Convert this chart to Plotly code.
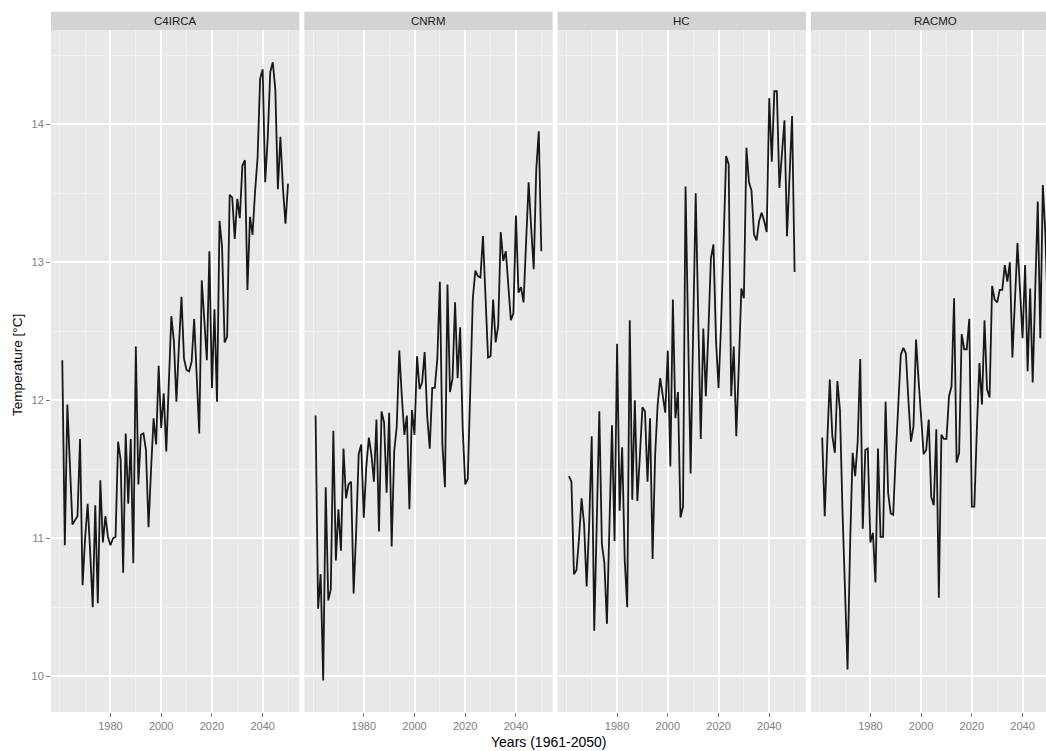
import plotly.graph_objects as go

years = list(range(1961, 2051))
models = ["C4IRCA", "CNRM", "HC", "RACMO"]

c4irca = [
    12.29, 10.95, 11.97, 11.50, 11.10, 11.13, 11.16, 11.72, 10.66, 11.00,
    11.25, 10.90, 10.50, 11.24, 10.53, 11.42, 10.97, 11.16, 11.01, 10.95,
    11.00, 11.01, 11.70, 11.57, 10.75, 11.76, 11.25, 11.72, 10.82, 12.39,
    11.39, 11.75, 11.76, 11.64, 11.08, 11.50, 11.87, 11.68, 12.25, 11.80,
    12.05, 11.63, 12.10, 12.61, 12.43, 11.99, 12.40, 12.75, 12.30, 12.22,
    12.21, 12.28, 12.59, 12.20, 11.76, 12.87, 12.54, 12.29, 13.08, 12.09,
    12.66, 11.99, 13.30, 13.11, 12.42, 12.46, 13.49, 13.47, 13.17, 13.46,
    13.32, 13.70, 13.74, 12.80, 13.33, 13.20, 13.51, 13.76, 14.33, 14.40,
    13.58, 13.90, 14.38, 14.45, 14.25, 13.53, 13.91, 13.54, 13.28, 13.57,
]

cnrm = [
    11.89, 10.49, 10.74, 9.97, 11.37, 10.55, 10.63, 11.78, 10.84, 11.21,
    10.91, 11.65, 11.29, 11.39, 11.41, 10.60, 11.05, 11.61, 11.68, 11.15,
    11.52, 11.73, 11.61, 11.41, 11.86, 11.05, 11.92, 11.84, 11.33, 11.91,
    10.94, 11.63, 11.81, 12.36, 12.03, 11.75, 11.89, 11.21, 11.93, 11.75,
    12.32, 12.08, 12.13, 12.35, 11.89, 11.65, 12.09, 12.09, 12.30, 12.86,
    11.68, 11.37, 12.84, 12.06, 12.16, 12.71, 12.16, 12.53, 11.80, 11.39,
    11.43, 12.20, 12.74, 12.94, 12.90, 12.89, 13.19, 12.75, 12.31, 12.32,
    12.73, 12.42, 12.54, 13.22, 13.01, 13.08, 12.80, 12.58, 12.63, 13.34,
    12.78, 12.82, 12.71, 13.10, 13.58, 13.25, 12.95, 13.67, 13.95, 13.08,
]

hc = [
    11.45, 11.41, 10.74, 10.77, 11.00, 11.29, 11.10, 10.65, 11.10, 11.74,
    10.33, 11.10, 11.92, 10.96, 10.82, 10.38, 11.10, 11.82, 10.98, 12.41,
    11.20, 11.66, 10.85, 10.50, 12.58, 11.28, 12.00, 11.27, 11.60, 11.95,
    11.92, 11.41, 11.87, 10.85, 11.60, 11.97, 12.16, 12.05, 11.91, 12.36,
    11.52, 12.73, 11.87, 12.06, 11.15, 11.23, 13.55, 12.50, 11.47, 12.50,
    13.50, 12.60, 11.72, 12.52, 12.03, 12.50, 13.03, 13.13, 12.44, 12.09,
    12.55, 13.15, 13.77, 13.71, 12.03, 12.39, 11.74, 12.25, 12.81, 12.74,
    13.83, 13.58, 13.52, 13.20, 13.16, 13.30, 13.36, 13.30, 13.22, 14.19,
    13.73, 14.24, 14.24, 13.54, 13.80, 14.03, 13.19, 13.60, 14.06, 12.93,
]

racmo = [
    11.73, 11.16, 11.70, 12.15, 11.74, 11.62, 12.14, 11.93, 11.20, 10.60,
    10.05, 10.95, 11.62, 11.45, 11.70, 12.30, 11.07, 11.64, 11.65, 10.97,
    11.04, 10.68, 11.65, 11.01, 11.01, 11.99, 11.33, 11.18, 11.17, 11.60,
    12.00, 12.33, 12.38, 12.34, 12.00, 11.70, 11.81, 12.44, 12.15, 11.85,
    11.61, 11.64, 11.86, 11.30, 11.24, 11.79, 10.57, 11.75, 11.72, 11.72,
    12.03, 12.10, 12.74, 11.55, 11.62, 12.48, 12.37, 12.37, 12.59, 11.23,
    11.23, 11.80, 12.27, 11.97, 12.58, 12.08, 12.02, 12.83, 12.73, 12.71,
    12.80, 12.80, 12.98, 12.86, 13.00, 12.31, 12.70, 13.14, 12.80, 12.45,
    12.98, 12.21, 12.81, 12.13, 12.80, 13.44, 12.45, 13.56, 13.20, 12.60,
]

series = [c4irca, cnrm, hc, racmo]

x_ticks = [1980, 2000, 2020, 2040]
x_minor = [1960, 1970, 1990, 2010, 2030, 2050]
y_ticks = [10, 11, 12, 13, 14]
y_minor = [10.5, 11.5, 12.5, 13.5, 14.5]

# ---- geometry (pixels) ----
W, H = 1046, 751
ML, MR, MT, MB = 51, 0, 0, 39
PW = W - ML - MR
PH = H - MT - MB
panel_top = 30.0
strip_top = 11.7
panel_w = 248.3
panel_step = 253.3
x_lo, x_hi = 1956.55, 2054.45
y_lo, y_hi = 9.741, 14.684
px_per_year = panel_w / (x_hi - x_lo)


def xp(px):
    return (px - ML) / PW


def yp(py):
    return (PH - (py - MT)) / PH


BG = "#e8e8e8"
STRIP = "#d3d3d3"
MINOR = "#f1f1f1"
TICKC = "#808080"
FONT = "Liberation Sans, Arial, sans-serif"

fig = go.Figure()
layout = dict(
    width=W, height=H,
    margin=dict(l=ML, r=MR, t=MT, b=MB, pad=0),
    paper_bgcolor="white",
    plot_bgcolor=BG,
    showlegend=False,
    font=dict(family=FONT, size=11, color=TICKC),
)

shapes = []
annotations = []

for k, (name, vals) in enumerate(zip(models, series)):
    left = ML + k * panel_step
    right_full = left + panel_w
    right = min(right_full, W - MR)
    x_end = x_lo + (right - left) / px_per_year
    sfx = "" if k == 0 else str(k + 1)
    fig.add_trace(go.Scatter(
        x=years, y=vals, mode="lines",
        line=dict(color="#181818", width=1.8),
        xaxis="x" + sfx, yaxis="y" + sfx,
        hoverinfo="skip",
    ))
    layout["xaxis" + sfx] = dict(
        domain=[xp(left), min(1.0, xp(right))],
        range=[x_lo, x_end],
        anchor="y" + sfx,
        tickvals=x_ticks,
        ticks="outside", ticklen=4, tickwidth=1, tickcolor=TICKC,
        tickfont=dict(size=11, color=TICKC, family=FONT),
        showgrid=True, gridcolor="white", gridwidth=1.6,
        minor=dict(tickvals=x_minor, showgrid=True, gridcolor=MINOR, gridwidth=0.8),
        zeroline=False, showline=False,
        fixedrange=True,
    )
    layout["yaxis" + sfx] = dict(
        domain=[0, yp(panel_top)],
        range=[y_lo, y_hi],
        anchor="x" + sfx,
        tickvals=y_ticks,
        ticks="outside" if k == 0 else "",
        ticklen=4, tickwidth=1, tickcolor=TICKC,
        showticklabels=(k == 0),
        tickfont=dict(size=11, color=TICKC, family=FONT),
        showgrid=True, gridcolor="white", gridwidth=1.6,
        minor=dict(tickvals=y_minor, showgrid=True, gridcolor=MINOR, gridwidth=0.8),
        zeroline=False, showline=False,
        fixedrange=True,
    )
    # strip
    shapes.append(dict(
        type="rect", xref="paper", yref="paper",
        x0=xp(left), x1=min(1.0, xp(right)),
        y0=yp(panel_top), y1=yp(strip_top),
        fillcolor=STRIP, line=dict(width=0), layer="below",
    ))
    annotations.append(dict(
        text=name, xref="paper", yref="paper",
        x=xp((left + right_full) / 2), y=yp((panel_top + strip_top) / 2),
        xanchor="center", yanchor="middle", showarrow=False,
        font=dict(size=11.5, color="#1a1a1a", family=FONT),
    ))

annotations.append(dict(
    text="Years (1961-2050)", xref="paper", yref="paper",
    x=xp(548), y=yp(742), xanchor="center", yanchor="middle",
    showarrow=False, font=dict(size=14, color="black", family=FONT),
))
annotations.append(dict(
    text="Temperature [°C]", xref="paper", yref="paper",
    x=xp(18), y=yp(365), xanchor="center", yanchor="middle", textangle=-90,
    showarrow=False, font=dict(size=13.5, color="black", family=FONT),
))

layout["shapes"] = shapes
layout["annotations"] = annotations
fig.update_layout(**layout)
fig.write_html("out.html")
